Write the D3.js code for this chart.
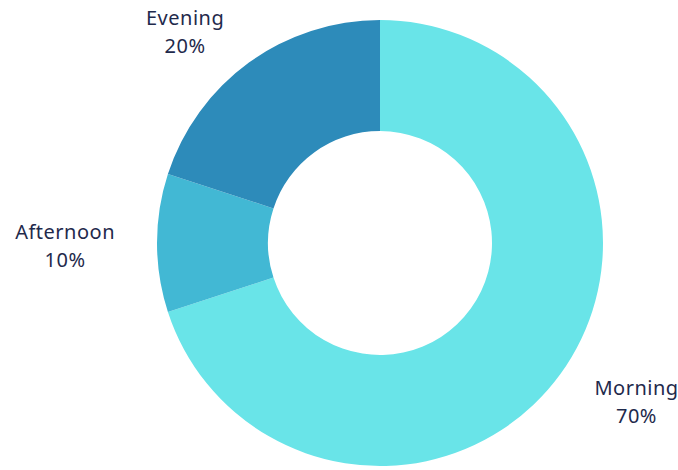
<!DOCTYPE html>
<html>
<head>
<meta charset="utf-8">
<script src="https://cdn.jsdelivr.net/npm/d3@7"></script>
<style>
  html, body { margin: 0; padding: 0; background: #ffffff; }
  svg { display: block; }
</style>
</head>
<body>
<svg id="chart" width="678" height="470"></svg>
<script>
// Share of activity by time of day
const categories = ["Morning", "Afternoon", "Evening"];
const shares = [70, 10, 20];
const colors = ["#69e4e8", "#42b8d4", "#2d8bba"];

const width = 678, height = 470;
const cx = 380, cy = 243;
const outerR = 223, innerR = 112, labelR = 265;

const svg = d3.select("#chart");
const g = svg.append("g").attr("transform", `translate(${cx},${cy})`);

const data = categories.map((c, i) => ({ name: c, value: shares[i], color: colors[i] }));

const pie = d3.pie().value(d => d.value).sort(null);
const arc = d3.arc().innerRadius(innerR).outerRadius(outerR);
const arcs = pie(data);

g.selectAll("path.slice")
  .data(arcs)
  .join("path")
  .attr("class", "slice")
  .attr("d", arc)
  .attr("fill", d => d.data.color);

// Two-line labels placed just outside each slice, centred on one another
const labelArc = d3.arc().innerRadius(labelR).outerRadius(labelR);
const lineH = 28;

arcs.forEach(d => {
  const [x, y] = labelArc.centroid(d);
  const mid = (d.startAngle + d.endAngle) / 2;
  const right = Math.sin(mid) > 0;
  const grp = g.append("g");
  const t = grp.append("text")
    .attr("text-anchor", "middle")
    .attr("fill", "#1f2a4c")
    .style("font-family", "'Noto Sans', sans-serif")
    .style("font-size", "20px")
    .style("letter-spacing", "0.5px");
  t.append("tspan").attr("x", 0).attr("dy", 0).text(d.data.name);
  t.append("tspan").attr("x", 0).attr("dy", lineH).text(d.data.value + "%");
  const bb = t.node().getBBox();
  const w = bb.width;
  const ox = right ? x + w / 2 : x - w / 2;
  const oy = y - lineH / 2 + 10;
  grp.attr("transform", `translate(${ox},${oy})`);
});
</script>
</body>
</html>
